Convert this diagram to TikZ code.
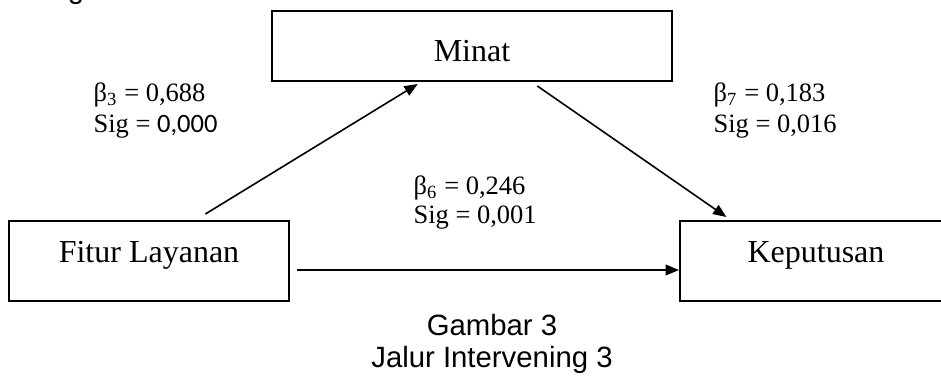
\documentclass[tikz,border=0pt]{standalone}
\usepackage{fontspec}
\setmainfont{Liberation Serif}
\newfontfamily\capfont{Liberation Sans}
\newfontfamily\calfont{Carlito}
\usetikzlibrary{arrows.meta,calc}
\begin{document}
\begin{tikzpicture}[x=0.375pt,y=-0.375pt,
  box/.style={draw,line width=0.75pt,inner sep=0pt,font=\fontsize{12}{14}\selectfont},
  lbl/.style={anchor=base west,inner sep=0pt,font=\fontsize{9.94}{12}\selectfont},
  captxt/.style={anchor=base,inner sep=0pt,font=\capfont\fontsize{11}{13}\selectfont},
  conn/.style={line width=0.6pt,-{Triangle[length=5pt,width=4pt]}}]
\useasboundingbox (0,0) rectangle (941,383);
\clip (0,0) rectangle (941,383);
% boxes
\node[box,minimum width=150pt,text height=19pt,text depth=7.25pt] (minat) at (472,46) {Minat};
\node[box,minimum width=105pt,text height=15.4pt,text depth=14.6pt] (fitur) at (149,261) {Fitur Layanan};
\node[box,minimum width=102pt,text height=15.4pt,text depth=14.6pt] (kep) at (816,261) {Keputusan};
% connectors
\draw[conn] ($(fitur.north west)!0.7!(fitur.north east)+(0,-6)$) -- ($(minat.south west)!0.365!(minat.south east)+(0,2)$);
\draw[conn] ($(minat.south west)!0.6625!(minat.south east)+(0,4)$) -- ($(kep.north west)!0.173!(kep.north east)+(0,-3)$);
\draw[conn] ($(fitur.east)+(7,9)$) -- ($(kep.west)+(0,9)$);
% labels
\node[lbl] (b3) at (93,101) {β\textsubscript{3} = 0,688};
\node[lbl] (s3) at (93,132) {Sig = {\calfont 0,000}};
\node[lbl] (b7) at (713,101) {β\textsubscript{7} = 0,183};
\node[lbl] (s7) at (713,132) {Sig = 0,016};
\node[lbl] (b6) at (413,194) {β\textsubscript{6} = 0,246};
\node[lbl] (s6) at (413,223) {Sig = 0,001};
% caption
\node[captxt] (g) at (76,-2) {g};
\node[captxt] (c1) at (492,335) {Gambar 3};
\node[captxt] (c2) at (492,367) {Jalur Intervening 3};
\end{tikzpicture}
\end{document}
